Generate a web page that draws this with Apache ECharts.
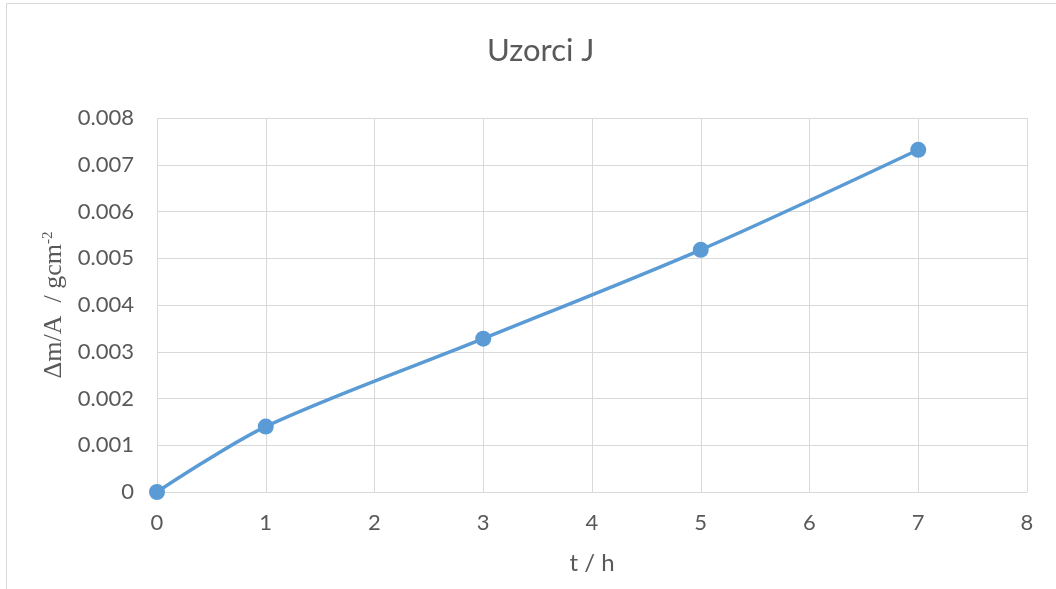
<!DOCTYPE html>
<html>
<head>
<meta charset="utf-8">
<script src="https://cdn.jsdelivr.net/npm/echarts@6/dist/echarts.min.js"></script>
<style>
  html, body { margin: 0; padding: 0; background: #fff; }
  #chart { width: 1056px; height: 589px; }
</style>
</head>
<body>
<div id="chart"></div>
<script>
// t / h
const hours = [0, 1, 3, 5, 7];
// Δm/A / gcm-2
const massGain = [0, 0.0014, 0.00328, 0.00518, 0.00732];

const chart = echarts.init(document.getElementById('chart'));

const textColor = '#595959';
const gridColor = '#d9d9d9';

chart.setOption({
  animation: false,
  title: {
    text: 'Uzorci J',
    left: 482,
    top: 30,
    textStyle: { fontFamily: 'Lato', fontSize: 31, fontWeight: 'normal', color: textColor }
  },
  graphic: [{
    type: 'rect',
    shape: { x: 6.5, y: 3.5, width: 1100, height: 700 },
    style: { fill: 'none', stroke: gridColor, lineWidth: 1 },
    silent: true
  }],
  grid: { left: 157, right: 29, top: 118, bottom: 97 },
  xAxis: {
    type: 'value',
    min: 0,
    max: 8,
    interval: 1,
    name: 't / h',
    nameLocation: 'middle',
    nameGap: 59,
    nameTextStyle: { fontFamily: 'Lato', fontSize: 24, color: textColor },
    axisLine: { show: true, lineStyle: { color: gridColor, width: 1 } },
    axisTick: { show: false },
    axisLabel: { fontFamily: 'Lato', fontSize: 22, color: textColor, margin: 20 },
    splitLine: { show: true, lineStyle: { color: gridColor, width: 1 } }
  },
  yAxis: {
    type: 'value',
    min: 0,
    max: 0.008,
    interval: 0.001,
    name: '{s|Δm/A}{n|  / gcm}{sup|-2}',
    nameLocation: 'middle',
    nameGap: 89,
    nameTextStyle: {
      color: textColor,
      rich: {
        s: { fontFamily: 'Liberation Serif', fontSize: 26, color: textColor },
        n: { fontFamily: 'Liberation Serif', fontSize: 26, color: textColor },
        sup: { fontFamily: 'Liberation Serif', fontSize: 15, color: textColor, verticalAlign: 'top', padding: [0, 0, 12, 0] }
      }
    },
    axisLine: { show: false },
    axisTick: { show: false },
    axisLabel: {
      fontFamily: 'Lato',
      fontSize: 22,
      color: textColor,
      margin: 23,
      formatter: v => v === 0 ? '0' : v.toFixed(3)
    },
    splitLine: { show: true, lineStyle: { color: gridColor, width: 1 } }
  },
  series: [{
    type: 'line',
    data: hours.map((h, i) => [h, massGain[i]]),
    smooth: 0.3,
    symbol: 'circle',
    symbolSize: 16,
    lineStyle: { color: '#5b9bd5', width: 3.5 },
    itemStyle: { color: '#5b9bd5' }
  }]
});
</script>
</body>
</html>
